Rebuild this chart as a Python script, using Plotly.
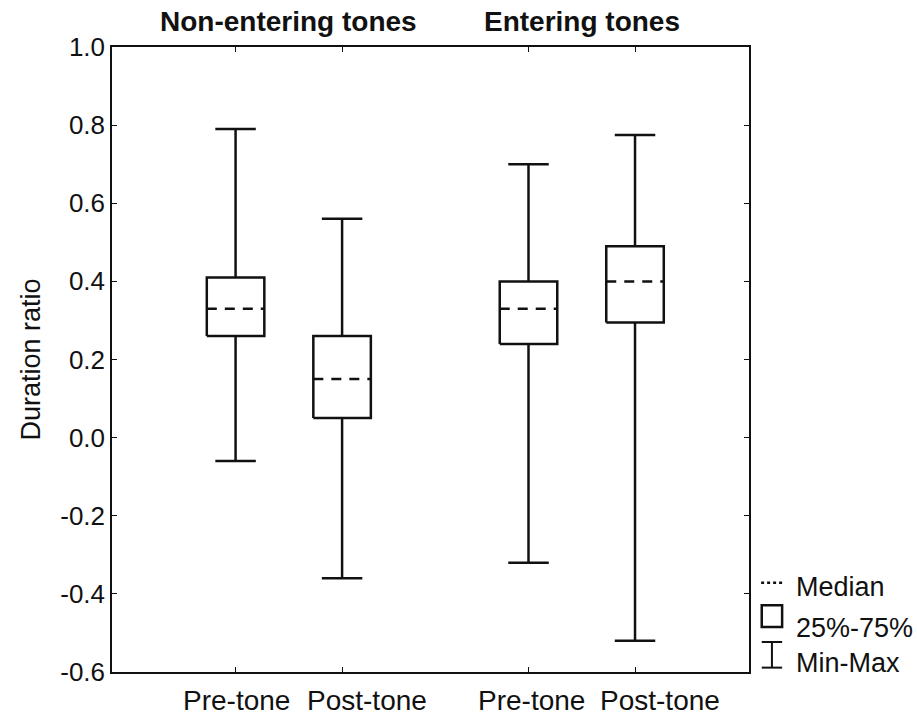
import plotly.graph_objects as go

# ---- data ----
groups = ["Non-entering tones", "Entering tones"]
categories = ["Pre-tone", "Post-tone", "Pre-tone", "Post-tone"]
group_of = [0, 0, 1, 1]
positions = [1.0, 2.0, 3.75, 4.75]
mins = [-0.06, -0.36, -0.32, -0.52]
q1 = [0.26, 0.05, 0.24, 0.295]
medians = [0.33, 0.15, 0.33, 0.40]
q3 = [0.41, 0.26, 0.40, 0.49]
maxs = [0.79, 0.56, 0.70, 0.775]
y_ticks = [1.0, 0.8, 0.6, 0.4, 0.2, 0.0, -0.2, -0.4, -0.6]

# ---- style ----
HW = 0.27     # box half-width (x units)
CW = 0.19     # whisker cap half-width
LW = 2.5
FONT = "Liberation Sans, Arial, sans-serif"
BLACK = "#111111"
label_shift = [1, 25, 3, 25]   # px offset of category labels (as in original)

fig = go.Figure()

for p, lo, a, m, b, hi in zip(positions, mins, q1, medians, q3, maxs):
    # whiskers + caps
    wx = [p, p, None, p, p, None, p - CW, p + CW, None, p - CW, p + CW]
    wy = [hi, b, None, a, lo, None, hi, hi, None, lo, lo]
    fig.add_trace(go.Scatter(x=wx, y=wy, mode="lines",
                             line=dict(color=BLACK, width=LW),
                             showlegend=False, hoverinfo="skip"))
    # box
    bx = [p - HW, p + HW, p + HW, p - HW, p - HW]
    by = [a, a, b, b, a]
    fig.add_trace(go.Scatter(x=bx, y=by, mode="lines",
                             line=dict(color=BLACK, width=LW),
                             showlegend=False, hoverinfo="skip"))
    # median
    fig.add_trace(go.Scatter(x=[p - HW, p + HW], y=[m, m], mode="lines",
                             line=dict(color=BLACK, width=LW, dash="10px,8px"),
                             showlegend=False, hoverinfo="skip"))

# category labels
for p, c, s in zip(positions, categories, label_shift):
    fig.add_annotation(x=p, xref="x", y=-0.046, yref="paper", text=c,
                       showarrow=False, xanchor="center", yanchor="middle",
                       xshift=s, font=dict(family=FONT, size=28, color=BLACK))

# group titles
for gi, g in enumerate(groups):
    xs = [positions[i] for i in range(len(positions)) if group_of[i] == gi]
    fig.add_annotation(x=sum(xs) / len(xs), xref="x", y=1.04, yref="paper",
                       text="<b>" + g + "</b>", showarrow=False,
                       font=dict(family=FONT, size=28, color=BLACK),
                       xanchor="center", yanchor="middle")

# legend (custom)
legend_labels = ["Median", "25%-75%", "Min-Max"]
legend_y = [0.136, 0.070, 0.014]
for lab, ly in zip(legend_labels, legend_y):
    fig.add_annotation(x=1.070, xref="paper", y=ly, yref="paper", text=lab,
                       showarrow=False, xanchor="left", yanchor="middle",
                       font=dict(family=FONT, size=27, color=BLACK))
# glyphs
fig.add_shape(type="line", xref="paper", yref="paper", x0=1.019, x1=1.052,
              y0=0.143, y1=0.143, line=dict(color=BLACK, width=2.5, dash="dot"))
fig.add_shape(type="rect", xref="paper", yref="paper", x0=1.020, x1=1.052,
              y0=0.072, y1=0.107, line=dict(color=BLACK, width=2.5))
fig.add_shape(type="line", xref="paper", yref="paper", x0=1.036, x1=1.036,
              y0=0.007, y1=0.048, line=dict(color=BLACK, width=2))
fig.add_shape(type="line", xref="paper", yref="paper", x0=1.020, x1=1.052,
              y0=0.048, y1=0.048, line=dict(color=BLACK, width=2))
fig.add_shape(type="line", xref="paper", yref="paper", x0=1.020, x1=1.052,
              y0=0.007, y1=0.007, line=dict(color=BLACK, width=2))

fig.update_layout(
    width=917, height=717,
    margin=dict(l=112, r=168, t=47, b=45, autoexpand=False),
    paper_bgcolor="white", plot_bgcolor="white",
    font=dict(family=FONT, size=26, color=BLACK),
    showlegend=False,
    xaxis=dict(range=[-0.16, 5.82], tickvals=positions, showticklabels=False,
               showline=True, linecolor=BLACK, linewidth=1.5, mirror="ticks",
               ticks="inside", ticklen=5, tickcolor=BLACK, showgrid=False,
               zeroline=False),
    yaxis=dict(range=[-0.6, 1.0], tickvals=y_ticks,
               ticktext=[f"{v:.1f}" for v in y_ticks],
               showline=True, linecolor=BLACK, linewidth=1.5, mirror="ticks",
               ticks="inside", ticklen=5, tickcolor=BLACK, showgrid=False,
               zeroline=False, tickfont=dict(size=26),
               title=dict(text="Duration ratio", font=dict(size=27), standoff=12)),
)

fig.write_html("out.html")
